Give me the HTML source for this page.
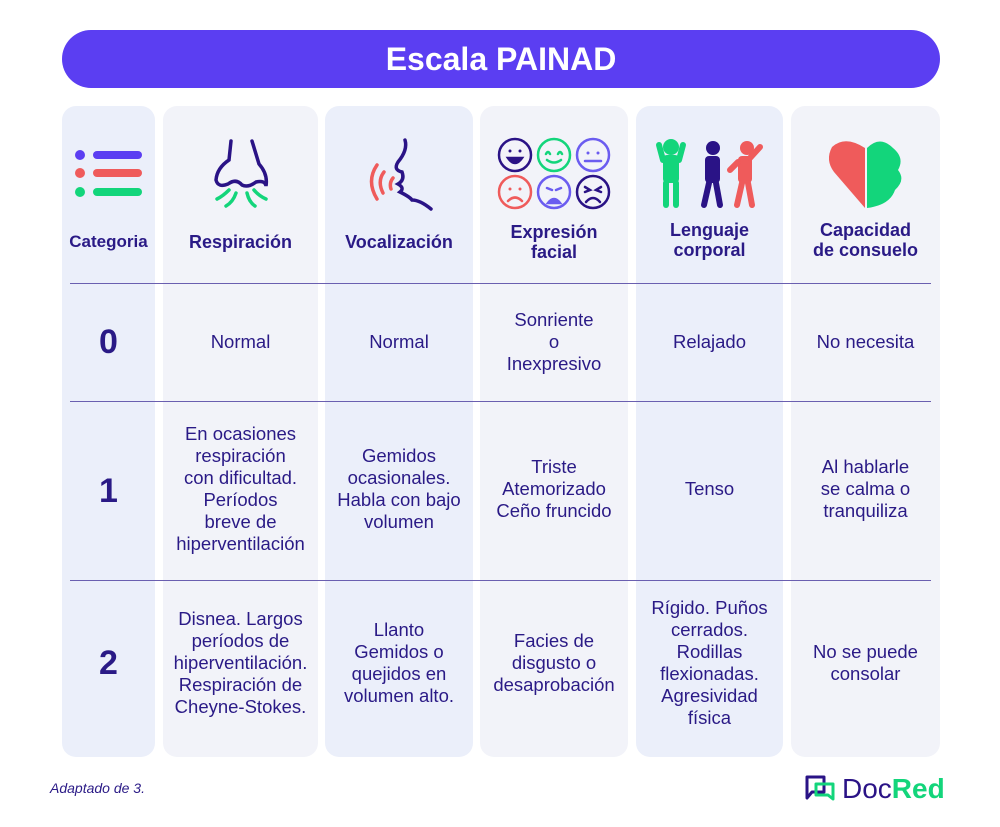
<!DOCTYPE html>
<html><head><meta charset="utf-8"><style>
body{margin:0;width:1000px;height:827px;background:#fff;position:relative;font-family:"Liberation Sans",sans-serif;color:#2a1a86;overflow:hidden}
.t{position:absolute;left:62px;top:30px;width:878px;height:58px;border-radius:29px;background:#5b3ef2;color:#fff;font-weight:bold;font-size:32px;text-align:center;line-height:58px}
.c{position:absolute;top:106px;height:651px;border-radius:14px}
.a{background:#ebeffa}.b{background:#f2f3f9}
.h{position:absolute;height:0;border-top:1.5px solid #6a5fb0}
.x{position:absolute;text-align:center;font-size:18.5px;line-height:22px;display:flex;align-items:center;justify-content:center}
.hd{font-weight:bold;font-size:18px;line-height:20px}
.n{font-weight:bold;font-size:34px}
</style></head><body>
<div class="t">Escala PAINAD</div>
<div class="c a" style="left:62px;width:93px"></div>
<div class="c b" style="left:163px;width:155px"></div>
<div class="c a" style="left:325px;width:148px"></div>
<div class="c b" style="left:480px;width:148px"></div>
<div class="c a" style="left:636px;width:147px"></div>
<div class="c b" style="left:791px;width:149px"></div>
<div class="h" style="top:283px;left:70px;width:861px"></div>
<div class="h" style="top:401px;left:70px;width:861px"></div>
<div class="h" style="top:580px;left:70px;width:861px"></div>

<svg style="position:absolute;left:0;top:0" width="1000" height="300">
<g stroke-linecap="round" fill="none">
<circle cx="80" cy="155" r="5" fill="#5b3ef2"/><line x1="97" y1="155" x2="138" y2="155" stroke="#5b3ef2" stroke-width="8"/>
<circle cx="80" cy="173" r="5" fill="#ef5b5b"/><line x1="97" y1="173" x2="138" y2="173" stroke="#ef5b5b" stroke-width="8"/>
<circle cx="80" cy="192" r="5" fill="#13d57b"/><line x1="97" y1="192" x2="138" y2="192" stroke="#13d57b" stroke-width="8"/>
<path d="M231 141 L229 160 Q217 168 216 180 Q218 188 228 184 Q236 178 242 185 Q248 188 256 182 Q265 180 266 186 Q268 174 259 164 L252 141" stroke="#2a1386" stroke-width="3.5"/>
<path d="M229 190 Q223 196 217 199 M236 193 Q233 202 226 206 M247 193 Q249 202 255 206 M254 190 Q259 196 266 199" stroke="#13d57b" stroke-width="3.5"/>
<path d="M405 140 Q408 150 398 162 Q393 170 402 172 Q405 180 398 184 Q405 188 400 192 Q410 197 412 200 Q420 200 431 209" stroke="#2a1386" stroke-width="3.5"/>
<path d="M393 178 Q389 183 391 189 M384 172 Q377 181 383 193 M377 165 Q366 181 377 199" stroke="#ef5b5b" stroke-width="3.5"/>
<g stroke-width="2.5">
<circle cx="515" cy="155" r="16" stroke="#2a1386"/><circle cx="554" cy="155" r="16" stroke="#13d57b"/><circle cx="593" cy="155" r="16" stroke="#6b5cf0"/>
<circle cx="515" cy="192" r="16" stroke="#ef5b5b"/><circle cx="554" cy="192" r="16" stroke="#6b5cf0"/><circle cx="593" cy="192" r="16" stroke="#2a1386"/>
<circle cx="510" cy="151" r="1.5" fill="#2a1386" stroke="none"/><circle cx="520" cy="151" r="1.5" fill="#2a1386" stroke="none"/>
<path d="M508 158 Q515 168 522 158 Z" fill="#2a1386" stroke="#2a1386"/>
<path d="M546 154 Q548 150 550 154 M558 154 Q560 150 562 154 M547 160 Q554 165 561 160" stroke="#13d57b"/>
<circle cx="588" cy="153" r="1.5" fill="#6b5cf0" stroke="none"/><circle cx="598" cy="153" r="1.5" fill="#6b5cf0" stroke="none"/>
<path d="M585 161 L601 161" stroke="#6b5cf0"/>
<circle cx="510" cy="189" r="1.5" fill="#ef5b5b" stroke="none"/><circle cx="520" cy="189" r="1.5" fill="#ef5b5b" stroke="none"/>
<path d="M508 201 Q515 194 522 201" stroke="#ef5b5b"/>
<path d="M547 188 L552 190 M561 188 L556 190" stroke="#6b5cf0"/>
<path d="M548 203 Q554 195 560 203 Z" fill="#6b5cf0" stroke="#6b5cf0"/>
<path d="M585 187 L590 190 L585 192 M601 187 L596 190 L601 192" stroke="#2a1386"/>
<path d="M586 202 Q593 194 600 202" stroke="#2a1386"/>
</g>
<g fill="#13d57b"><circle cx="671" cy="147" r="8"/><rect x="663" y="155" width="16" height="28" rx="4"/><rect x="663" y="180" width="6" height="28" rx="3"/><rect x="673" y="180" width="6" height="28" rx="3"/></g>
<path d="M663 160 L659 145 M679 160 L683 145" stroke="#13d57b" stroke-width="6"/>
<g fill="#2a1386"><circle cx="713" cy="148" r="7"/><rect x="705" y="156" width="15" height="27" rx="4"/></g>
<path d="M709 183 L704 205 M716 183 L720 205" stroke="#2a1386" stroke-width="6"/>
<g fill="#ef5b5b"><circle cx="747" cy="148" r="7"/><rect x="738" y="156" width="14" height="27" rx="4"/></g>
<path d="M742 183 L737 205 M748 183 L752 205 M738 162 L730 170 M750 158 L760 147" stroke="#ef5b5b" stroke-width="6"/>
<path d="M865 208 L834 172 Q825 160 832 147 Q845 135 865 148 Z" fill="#ef5b5b"/>
<path d="M867 148 Q880 135 893 148 Q905 158 898 170 Q906 180 895 190 Q890 205 867 208 Z" fill="#13d57b"/>
</g></svg>

<div class="x hd" style="left:62px;width:93px;top:222px;height:40px;font-size:17px">Categoria</div>
<div class="x hd" style="left:163px;width:155px;top:222px;height:40px">Respiración</div>
<div class="x hd" style="left:325px;width:148px;top:222px;height:40px">Vocalización</div>
<div class="x hd" style="left:480px;width:148px;top:222px;height:40px">Expresión<br>facial</div>
<div class="x hd" style="left:636px;width:147px;top:220px;height:40px">Lenguaje<br>corporal</div>
<div class="x hd" style="left:791px;width:149px;top:220px;height:40px">Capacidad<br>de consuelo</div>

<div class="x n" style="left:62px;width:93px;top:283px;height:118px">0</div>
<div class="x" style="left:163px;width:155px;top:283px;height:118px">Normal</div>
<div class="x" style="left:325px;width:148px;top:283px;height:118px">Normal</div>
<div class="x" style="left:480px;width:148px;top:283px;height:118px">Sonriente<br>o<br>Inexpresivo</div>
<div class="x" style="left:636px;width:147px;top:283px;height:118px">Relajado</div>
<div class="x" style="left:791px;width:149px;top:283px;height:118px">No necesita</div>

<div class="x n" style="left:62px;width:93px;top:401px;height:179px">1</div>
<div class="x" style="left:163px;width:155px;top:401px;height:176px">En ocasiones<br>respiración<br>con dificultad.<br>Períodos<br>breve de<br>hiperventilación</div>
<div class="x" style="left:325px;width:148px;top:401px;height:176px">Gemidos<br>ocasionales.<br>Habla con bajo<br>volumen</div>
<div class="x" style="left:480px;width:148px;top:401px;height:176px">Triste<br>Atemorizado<br>Ceño fruncido</div>
<div class="x" style="left:636px;width:147px;top:401px;height:176px">Tenso</div>
<div class="x" style="left:791px;width:149px;top:401px;height:176px">Al hablarle<br>se calma o<br>tranquiliza</div>

<div class="x n" style="left:62px;width:93px;top:580px;height:166px">2</div>
<div class="x" style="left:163px;width:155px;top:580px;height:166px">Disnea. Largos<br>períodos de<br>hiperventilación.<br>Respiración de<br>Cheyne-Stokes.</div>
<div class="x" style="left:325px;width:148px;top:580px;height:166px">Llanto<br>Gemidos o<br>quejidos en<br>volumen alto.</div>
<div class="x" style="left:480px;width:148px;top:580px;height:166px">Facies de<br>disgusto o<br>desaprobación</div>
<div class="x" style="left:636px;width:147px;top:580px;height:166px">Rígido. Puños<br>cerrados.<br>Rodillas<br>flexionadas.<br>Agresividad<br>física</div>
<div class="x" style="left:791px;width:149px;top:580px;height:166px">No se puede<br>consolar</div>

<div style="position:absolute;left:50px;top:780px;font-size:14px;font-style:italic">Adaptado de 3.</div>
<svg style="position:absolute;left:804px;top:774px" width="36" height="30"><path d="M3 3 H20 V18 H8 L3 24 Z" fill="none" stroke="#2a1386" stroke-width="3" stroke-linejoin="round"/><path d="M12 10 H29 V25 L24 21 H12 Z" fill="none" stroke="#13d57b" stroke-width="3" stroke-linejoin="round"/></svg>
<div style="position:absolute;left:842px;top:773px;font-size:28px;line-height:32px"><span style="color:#2a1386">Doc</span><span style="color:#13d57b;font-weight:bold">Red</span></div>
</body></html>
